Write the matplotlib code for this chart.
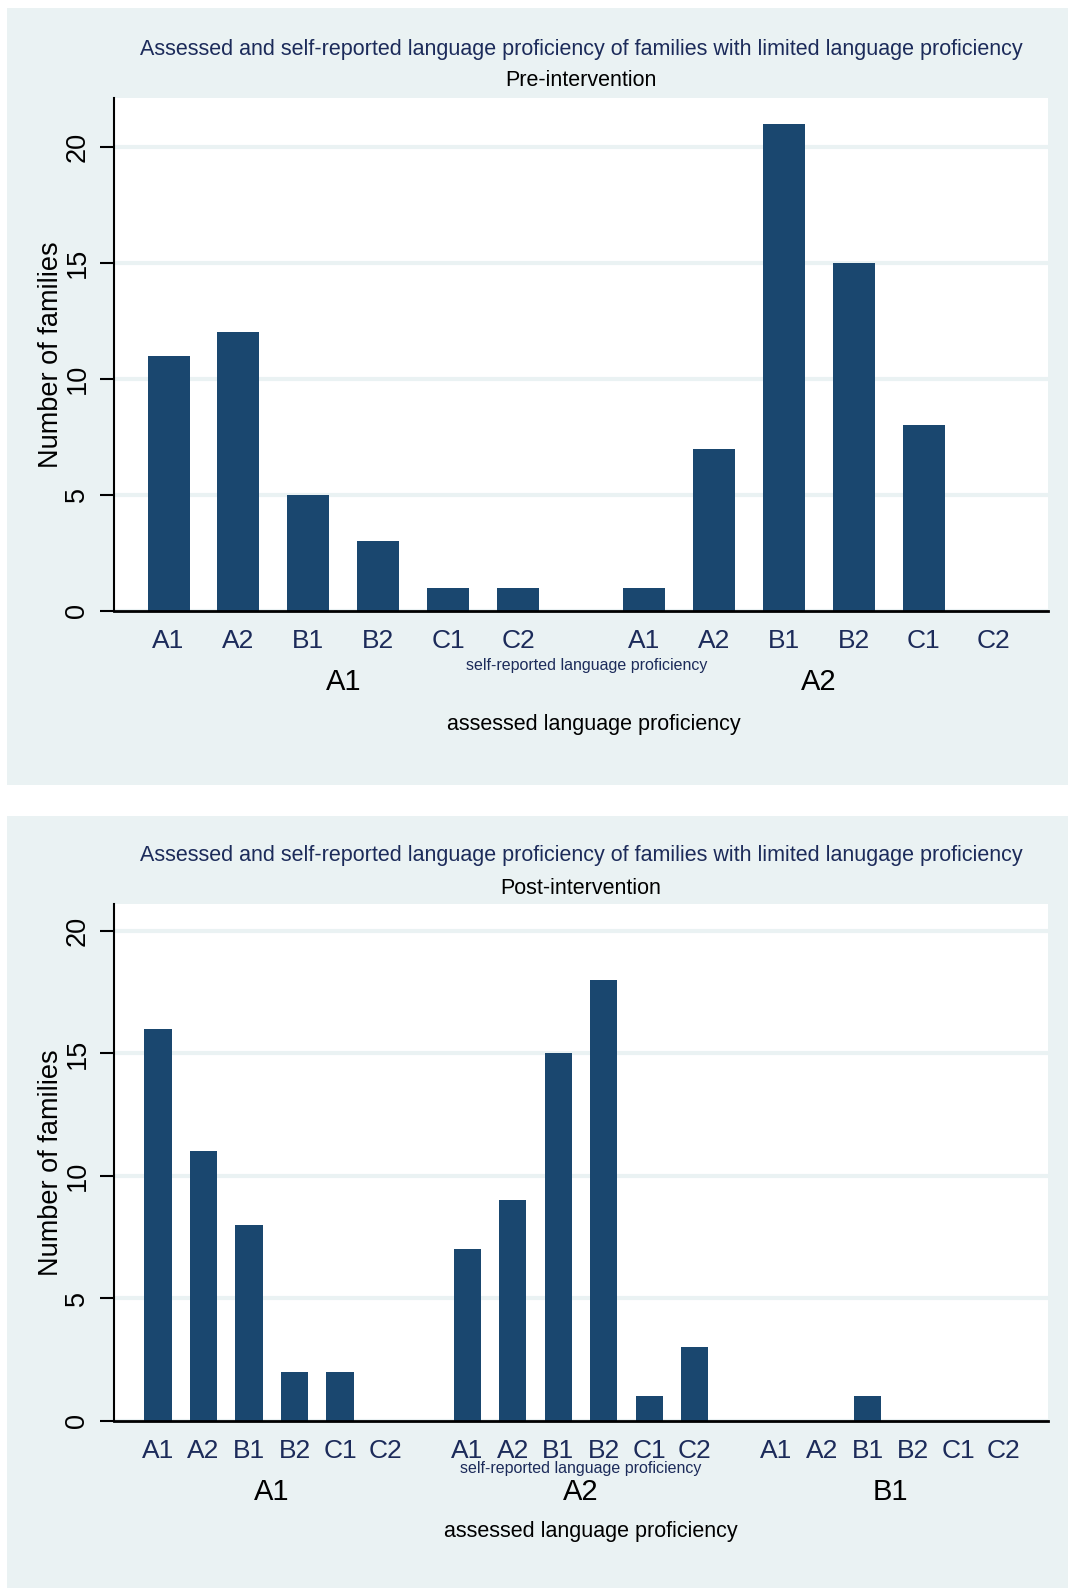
import matplotlib.pyplot as plt
from matplotlib.patches import Rectangle
from matplotlib.transforms import blended_transform_factory

plt.rcParams['font.family'] = ['Liberation Sans', 'DejaVu Sans']

niveles = ["A1", "A2", "B1", "B2", "C1", "C2"]
# pre-intervención: grupos de nivel evaluado
grupos_pre = ["A1", "A2"]
pre_A1 = [11, 12, 5, 3, 1, 1]
pre_A2 = [1, 7, 21, 15, 8, 0]
# post-intervención
grupos_post = ["A1", "A2", "B1"]
post_A1 = [16, 11, 8, 2, 2, 0]
post_A2 = [7, 9, 15, 18, 1, 3]
post_B1 = [0, 0, 1, 0, 0, 0]

fondo = "#eaf2f3"
barra = "#1a476f"
azul = "#1c2b5a"
W, H = 1068, 1588

fig = plt.figure(figsize=(W / 100, H / 100), dpi=100)
fig.patch.set_facecolor("white")


def panel(top_bg, bot_bg, top, bot, titulo, sub, grupos, series, ymax, y_textos, x_textos):
    # fondo del panel
    fig.patches.append(Rectangle((7 / W, 1 - bot_bg / H), (W - 7) / W, (bot_bg - top_bg) / H,
                                 transform=fig.transFigure, facecolor=fondo, edgecolor="none", zorder=-10))
    ax = fig.add_axes([114 / W, 1 - bot / H, (1048 - 114) / W, (bot - top) / H])
    ax.set_facecolor("white")
    gap = 1.8
    xs, labs = [], []
    centros = []
    for g, vals in enumerate(series):
        pos = [g * (5 + gap) + i for i in range(6)]
        ax.bar(pos, vals, width=0.6, color=barra, zorder=3)
        xs += pos
        labs += niveles
        centros.append((pos[0] + pos[-1]) / 2)
    marg = 0.78 if len(series) == 2 else 0.97
    ax.set_xlim(xs[0] - marg, xs[-1] + marg)
    ax.set_ylim(0, ymax)
    ax.set_xticks(xs, labs)
    ax.tick_params(axis="x", length=0, pad=13, labelsize=19, labelcolor=azul)
    ax.set_yticks([0, 5, 10, 15, 20])
    ax.tick_params(axis="y", length=10, width=1.5, labelsize=19.5, pad=7)
    for t in ax.get_yticklabels():
        t.set_rotation(90)
        t.set_va("center")
    ax.grid(axis="y", color=fondo, linewidth=3, zorder=1)
    for s in ["top", "right"]:
        ax.spines[s].set_visible(False)
    ax.spines["left"].set_linewidth(1.5)
    ax.spines["bottom"].set_linewidth(2)
    ax.spines["bottom"].set_zorder(4)
    ax.set_ylabel("Number of families", fontsize=19.5, va="center")
    ax.yaxis.set_label_coords(51 / W, 0.5,
                              transform=blended_transform_factory(fig.transFigure, ax.transAxes))

    yt, ys, ysm, yg, ya = y_textos
    xsm, xa = x_textos
    cx = 581 / W
    fig.text(cx, 1 - yt / H, titulo, ha="center", va="center", fontsize=15.5, color=azul)
    fig.text(cx, 1 - ys / H, sub, ha="center", va="center", fontsize=15.5, color="black")
    fig.text(xsm / W, 1 - ysm / H, "self-reported language proficiency", ha="center", va="center",
             fontsize=11.5, color=azul)
    tr = blended_transform_factory(ax.transData, fig.transFigure)
    for c, g in zip(centros, grupos):
        ax.text(c, 1 - yg / H, g, transform=tr, ha="center", va="center", fontsize=21)
    fig.text(xa / W, 1 - ya / H, "assessed language proficiency", ha="center", va="center", fontsize=15.5)
    return ax


panel(8, 785, 98, 611,
      "Assessed and self-reported language proficiency of families with limited language proficiency",
      "Pre-intervention", grupos_pre, [pre_A1, pre_A2], 22.1, (50, 80, 666, 682, 724), (587, 594))
panel(816, 1588, 904, 1421,
      "Assessed and self-reported language proficiency of families with limited lanugage proficiency",
      "Post-intervention", grupos_post, [post_A1, post_A2, post_B1], 21.1, (856, 888, 1469, 1492, 1532),
      (581, 591))

fig.savefig("out.png", dpi=100, facecolor="white")
